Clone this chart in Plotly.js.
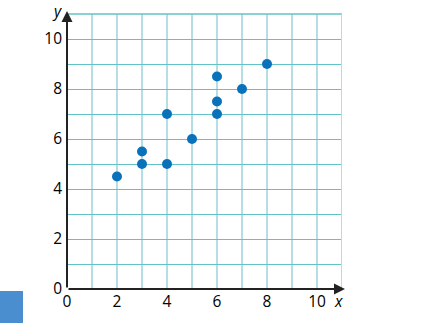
<!DOCTYPE html>
<html><head><meta charset="utf-8">
<script src="https://cdn.plot.ly/plotly-3.0.1.min.js"></script>
<style>html,body{margin:0;padding:0;background:#fff;}#chart{width:430px;height:323px;}</style>
</head><body><div id="chart"></div>
<script>
const xValues = [2, 3, 3, 4, 4, 5, 6, 6, 6, 7, 8];
const yValues = [4.5, 5, 5.5, 5, 7, 6, 7, 7.5, 8.5, 8, 9];
const tickVals = [0,1,2,3,4,5,6,7,8,9,10,11];
const tickText = ['0','','2','','4','','6','','8','','10',''];
const axisMax = 11;

const font = {family: 'Open Sans, DejaVu Sans, sans-serif', size: 15.5, color: '#000'};

const data = [{
  x: xValues, y: yValues, type: 'scatter', mode: 'markers',
  marker: {color: '#0a72bb', size: 10},
  hoverinfo: 'none', cliponaxis: false
}];

const layout = {
  width: 430, height: 323,
  margin: {l: 67, r: 88, t: 14, b: 34},
  paper_bgcolor: '#fff', plot_bgcolor: '#fff',
  showlegend: false,
  xaxis: {
    range: [0, axisMax], tickvals: tickVals, ticktext: tickText,
    showgrid: true, gridcolor: '#b4dde6', gridwidth: 2,
    zeroline: false, showline: false, ticks: '', ticklabelstandoff: 1,
    tickfont: font, fixedrange: true
  },
  yaxis: {
    range: [0, axisMax], tickvals: tickVals, ticktext: tickText,
    showgrid: true, gridcolor: '#62c3c6', gridwidth: 1,
    zeroline: false, showline: false, ticks: '', ticklabelstandoff: 4,
    tickfont: font, fixedrange: true
  },
  shapes: [
    {type: 'rect', xref: 'paper', yref: 'paper', x0: 0, x1: 1, y0: 1, y1: 1, line: {color: '#62c3c6', width: 1}},
    {type: 'line', xref: 'x', yref: 'paper', x0: axisMax, x1: axisMax, y0: 0, y1: 1, line: {color: '#b4dde6', width: 2}},
    {type: 'rect', xref: 'paper', yref: 'paper', x0: -67/275, x1: -44/275, y0: -34/275, y1: -2/275, fillcolor: '#4a8ed0', line: {width: 0}}
  ],
  annotations: [
    {x: 0, y: axisMax + 0.12, ax: 0, ay: 0, xref: 'x', yref: 'y', axref: 'x', ayref: 'y', text: '', showarrow: true, arrowhead: 2, arrowsize: 1.1, arrowwidth: 2, arrowcolor: '#222'},
    {x: axisMax + 0.12, y: 0, ax: 0, ay: 0, xref: 'x', yref: 'y', axref: 'x', ayref: 'y', text: '', showarrow: true, arrowhead: 2, arrowsize: 1.1, arrowwidth: 2, arrowcolor: '#222'},
    {x: -10/275, y: 1.01, xref: 'paper', yref: 'paper', text: '<i>y</i>', showarrow: false, xanchor: 'center', yanchor: 'middle', font: font},
    {x: 1 - 4/275, y: -12/275, xref: 'paper', yref: 'paper', text: '<i>x</i>', showarrow: false, xanchor: 'center', yanchor: 'middle', font: font}
  ]
};

Plotly.newPlot('chart', data, layout, {displayModeBar: false, staticPlot: true});
</script></body></html>
